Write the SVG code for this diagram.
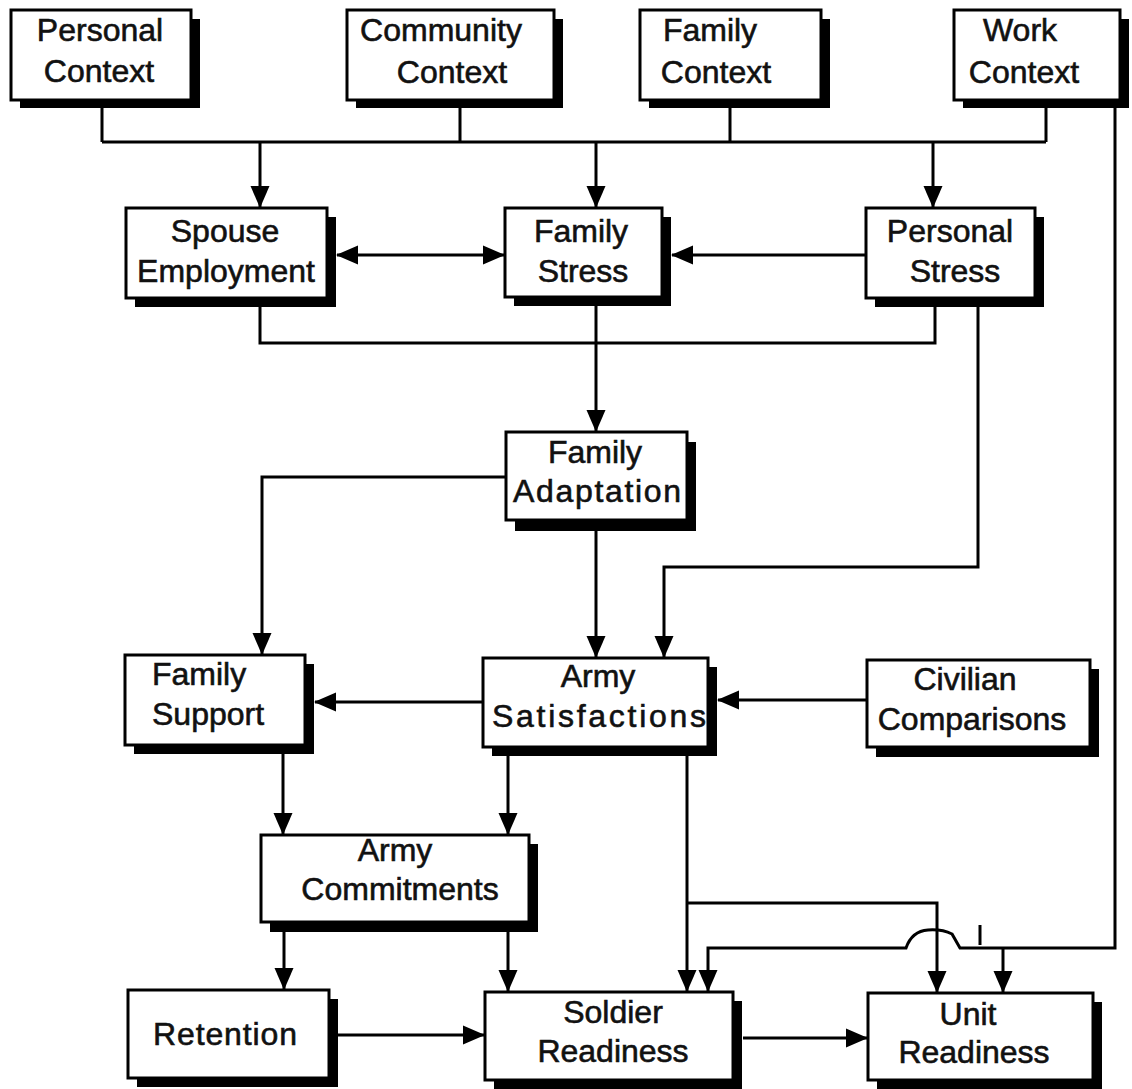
<svg xmlns="http://www.w3.org/2000/svg" width="1132" height="1089" viewBox="0 0 1132 1089">
<style>
.bx{fill:#fff;stroke:#000;stroke-width:3}
.sh{fill:#000}
.t{font-family:"Liberation Sans",Arial,Helvetica,sans-serif;font-size:32px;fill:#111;stroke:#111;stroke-width:0.6;text-anchor:middle}
.l{fill:none;stroke:#000;stroke-width:3}
</style>
<defs>
<marker id="ah" markerUnits="userSpaceOnUse" markerWidth="22" markerHeight="20" viewBox="0 0 22 20" refX="21" refY="10" orient="auto-start-reverse">
<path d="M0,0.5 L22,10 L0,19.5 z" fill="#000"/>
</marker>
</defs>
<rect width="1132" height="1089" fill="#fff"/>

<g id="connectors">
<path class="l" d="M102,106 V142 M460,106 V142 M730,106 V142 M1046,106 V142 M102,142 H1046"/>
<path class="l" d="M260,142 V207" marker-end="url(#ah)"/>
<path class="l" d="M596,142 V207" marker-end="url(#ah)"/>
<path class="l" d="M933,142 V207" marker-end="url(#ah)"/>
<path class="l" d="M337,255 H504" marker-start="url(#ah)" marker-end="url(#ah)"/>
<path class="l" d="M866,255 H672" marker-end="url(#ah)"/>
<path class="l" d="M260,306 V343 H935 V306"/>
<path class="l" d="M596,306 V431" marker-end="url(#ah)"/>
<path class="l" d="M978,306 V567 H664 V657" marker-end="url(#ah)"/>
<path class="l" d="M506,477 H262 V654" marker-end="url(#ah)"/>
<path class="l" d="M596,529 V657" marker-end="url(#ah)"/>
<path class="l" d="M483,702 H315" marker-end="url(#ah)"/>
<path class="l" d="M867,700 H718" marker-end="url(#ah)"/>
<path class="l" d="M283,754 V834" marker-end="url(#ah)"/>
<path class="l" d="M508,756 V834" marker-end="url(#ah)"/>
<path class="l" d="M687,756 V991" marker-end="url(#ah)"/>
<path class="l" d="M687,903 H937 V992" marker-end="url(#ah)"/>
<path class="l" d="M284,931 V989" marker-end="url(#ah)"/>
<path class="l" d="M508,931 V991" marker-end="url(#ah)"/>
<path class="l" d="M338,1035 H484" marker-end="url(#ah)"/>
<path class="l" d="M743,1038 H867" marker-end="url(#ah)"/>
<path class="l" d="M1115,100 V948 H960 L952,934 Q942,929 928,930 Q912,931 906,948 H708 V991" marker-end="url(#ah)"/>
<path class="l" d="M1003,948 V992" marker-end="url(#ah)"/>
<path class="l" d="M980,925 V945"/>
</g>

<g id="personal_context">
<rect class="sh" x="20" y="19" width="180" height="89"/>
<rect class="bx" x="11" y="10" width="180" height="90"/>
<text class="t" x="100" y="41">Personal</text>
<text class="t" x="99" y="82">Context</text>
</g>
<g id="community_context">
<rect class="sh" x="356" y="19" width="207" height="89"/>
<rect class="bx" x="347" y="10" width="207" height="90"/>
<text class="t" x="441" y="41">Community</text>
<text class="t" x="452" y="83">Context</text>
</g>
<g id="family_context">
<rect class="sh" x="649" y="19" width="181" height="89"/>
<rect class="bx" x="640" y="10" width="181" height="90"/>
<text class="t" x="710" y="41">Family</text>
<text class="t" x="716" y="83">Context</text>
</g>
<g id="work_context">
<rect class="sh" x="963" y="19" width="166" height="89"/>
<rect class="bx" x="954" y="10" width="166" height="90"/>
<text class="t" x="1020" y="41">Work</text>
<text class="t" x="1024" y="83">Context</text>
</g>

<g id="spouse_employment">
<rect class="sh" x="135" y="217" width="201" height="90"/>
<rect class="bx" x="126" y="208" width="201" height="90"/>
<text class="t" x="225" y="242">Spouse</text>
<text class="t" x="226" y="282">Employment</text>
</g>
<g id="family_stress">
<rect class="sh" x="514" y="217" width="157" height="89"/>
<rect class="bx" x="505" y="208" width="157" height="89"/>
<text class="t" x="581" y="242">Family</text>
<text class="t" x="583" y="282">Stress</text>
</g>
<g id="personal_stress">
<rect class="sh" x="875" y="217" width="169" height="90"/>
<rect class="bx" x="866" y="208" width="169" height="90"/>
<text class="t" x="950" y="242">Personal</text>
<text class="t" x="955" y="282">Stress</text>
</g>

<g id="family_adaptation">
<rect class="sh" x="515" y="442" width="181" height="89"/>
<rect class="bx" x="506" y="432" width="181" height="88"/>
<text class="t" x="595" y="463">Family</text>
<text class="t" x="597" y="502" textLength="168" lengthAdjust="spacing">Adaptation</text>
</g>

<g id="family_support">
<rect class="sh" x="134" y="664" width="180" height="90"/>
<rect class="bx" x="125" y="655" width="180" height="90"/>
<text class="t" x="152" y="685" style="text-anchor:start">Family</text>
<text class="t" x="152" y="725" style="text-anchor:start">Support</text>
</g>
<g id="army_satisfactions">
<rect class="sh" x="492" y="667" width="225" height="89"/>
<rect class="bx" x="483" y="658" width="225" height="89"/>
<text class="t" x="598" y="687">Army</text>
<text class="t" x="599" y="727" textLength="214" lengthAdjust="spacing">Satisfactions</text>
</g>
<g id="civilian_comparisons">
<rect class="sh" x="876" y="669" width="223" height="88"/>
<rect class="bx" x="867" y="660" width="223" height="87"/>
<text class="t" x="965" y="690">Civilian</text>
<text class="t" x="972" y="730">Comparisons</text>
</g>

<g id="army_commitments">
<rect class="sh" x="270" y="844" width="268" height="88"/>
<rect class="bx" x="261" y="835" width="268" height="87"/>
<text class="t" x="395" y="861">Army</text>
<text class="t" x="400" y="900">Commitments</text>
</g>

<g id="retention">
<rect class="sh" x="137" y="999" width="201" height="88"/>
<rect class="bx" x="128" y="990" width="201" height="88"/>
<text class="t" x="225" y="1045" textLength="144" lengthAdjust="spacing">Retention</text>
</g>
<g id="soldier_readiness">
<rect class="sh" x="494" y="1001" width="248" height="88"/>
<rect class="bx" x="485" y="992" width="248" height="88"/>
<text class="t" x="613" y="1023">Soldier</text>
<text class="t" x="613" y="1062">Readiness</text>
</g>
<g id="unit_readiness">
<rect class="sh" x="877" y="1002" width="225" height="87"/>
<rect class="bx" x="868" y="993" width="225" height="87"/>
<text class="t" x="968" y="1025">Unit</text>
<text class="t" x="974" y="1063">Readiness</text>
</g>
</svg>
